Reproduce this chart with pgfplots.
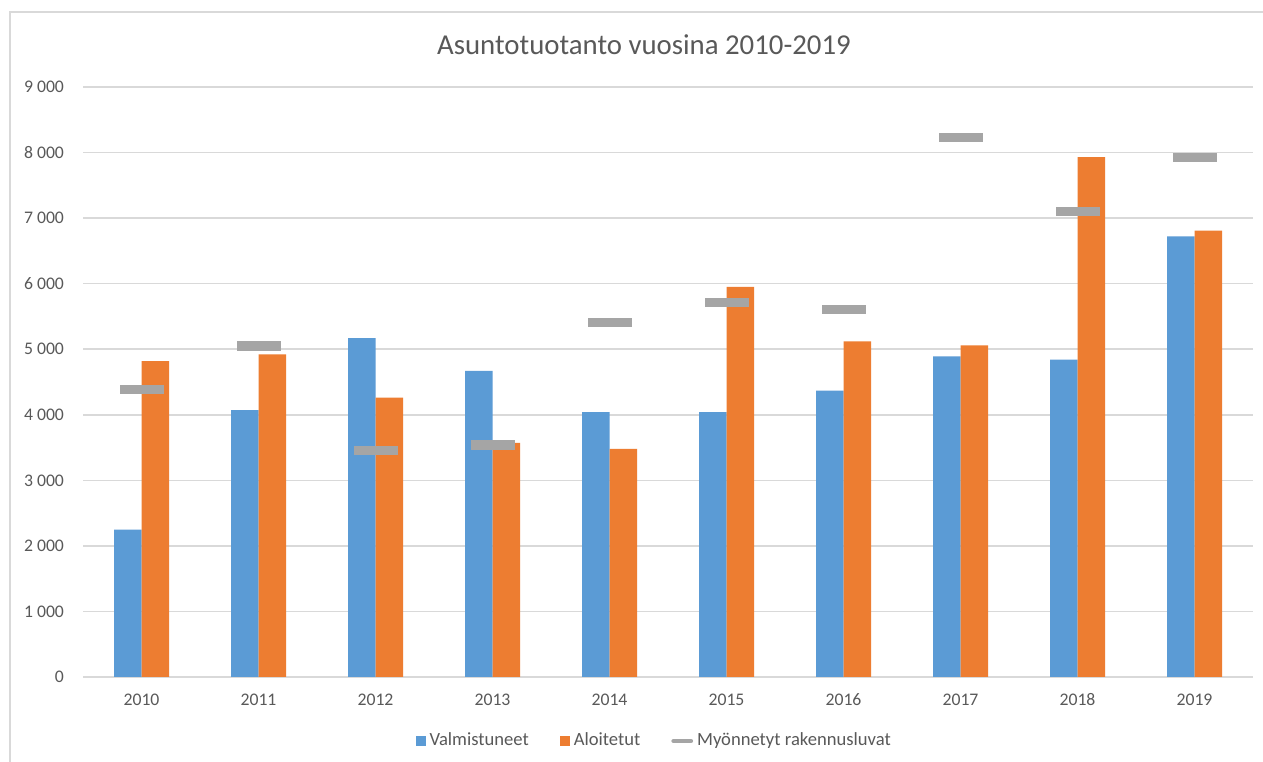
\documentclass[border=0pt]{standalone}
\usepackage{pgfplots}
\pgfplotsset{compat=1.18}
\usepackage{fontspec}
\setmainfont{Carlito}

\definecolor{valm}{HTML}{5B9BD5}
\definecolor{aloi}{HTML}{ED7D31}
\definecolor{myon}{HTML}{A5A5A5}
\definecolor{txt}{HTML}{595959}
\definecolor{gridc}{HTML}{D9D9D9}

% rounded gray dash used for the building permits
\pgfdeclareplotmark{lupa}{%
  \pgfsetcornersarced{\pgfpoint{1.2bp}{1.2bp}}%
  \pgfpathrectangle{\pgfpoint{-11bp}{-2.3bp}}{\pgfpoint{22bp}{4.6bp}}%
  \pgfusepathqfill}

\begin{document}
\begin{tikzpicture}
\path[use as bounding box] (-41.5bp,-42.5bp) rectangle (590bp,338.5bp);
\fill[white] (-41.5bp,-42.5bp) rectangle (590bp,338.5bp);
\draw[gridc, line width=0.75bp] (-36.5bp,-50bp) -- (-36.5bp,332.5bp) -- (600bp,332.5bp);

\node[font=\fontsize{14.4bp}{16bp}\selectfont, text=txt] at (280.5bp,316bp) {Asuntotuotanto vuosina 2010-2019};

\begin{axis}[
    at={(0,0)}, anchor=south west,
    scale only axis,
    width=585bp, height=295bp,
    xmin=2009.5, xmax=2019.5,
    ymin=0, ymax=9000,
    xtick={2010,2011,2012,2013,2014,2015,2016,2017,2018,2019},
    xticklabels={2010,2011,2012,2013,2014,2015,2016,2017,2018,2019},
    ytick={0,1000,2000,3000,4000,5000,6000,7000,8000,9000},
    ymajorgrids,
    grid style={gridc, line width=0.75bp},
    axis line style={draw=none},
    major tick length=0pt,
    /pgf/number format/assume math mode=true,
    /pgf/number format/1000 sep={\ },
    tick label style={font=\fontsize{8.85bp}{10bp}\selectfont, text=txt},
    xticklabel style={anchor=base, yshift=-14.3bp},
    yticklabel style={xshift=-6bp},
    legend style={at={(0.489,-0.1085)}, anchor=center, draw=none,
        font=\fontsize{9.3bp}{10bp}\selectfont, text=txt,
        /tikz/every even column/.append style={column sep=13.5bp}},
    legend columns=3,
    legend cell align=left,
]
\addplot[ybar, bar width=13.75bp, bar shift=-6.875bp, fill=valm, draw=none,
    legend image code/.code={\fill[valm] (0bp,-2.5bp) rectangle (5bp,2.5bp);}]
coordinates {
(2010,2250) (2011,4070) (2012,5170) (2013,4670) (2014,4040)
(2015,4040) (2016,4370) (2017,4890) (2018,4840) (2019,6720)
};
\addlegendentry{Valmistuneet}

\addplot[ybar, bar width=13.75bp, bar shift=6.875bp, fill=aloi, draw=none,
    legend image code/.code={\fill[aloi] (0bp,-2.5bp) rectangle (5bp,2.5bp);}]
coordinates {
(2010,4820) (2011,4920) (2012,4260) (2013,3570) (2014,3480)
(2015,5950) (2016,5120) (2017,5060) (2018,7930) (2019,6810)
};
\addlegendentry{Aloitetut}

\addplot[only marks, mark=lupa, color=myon,
    legend image code/.code={\draw[myon, line width=2.4bp, line cap=round] (0.5bp,0bp) -- (9bp,0bp);}]
coordinates {
(2010,4390) (2011,5050) (2012,3460) (2013,3540) (2014,5410)
(2015,5710) (2016,5600) (2017,8230) (2018,7100) (2019,7920)
};
\addlegendentry{Myönnetyt rakennusluvat}
\end{axis}
\end{tikzpicture}
\end{document}
